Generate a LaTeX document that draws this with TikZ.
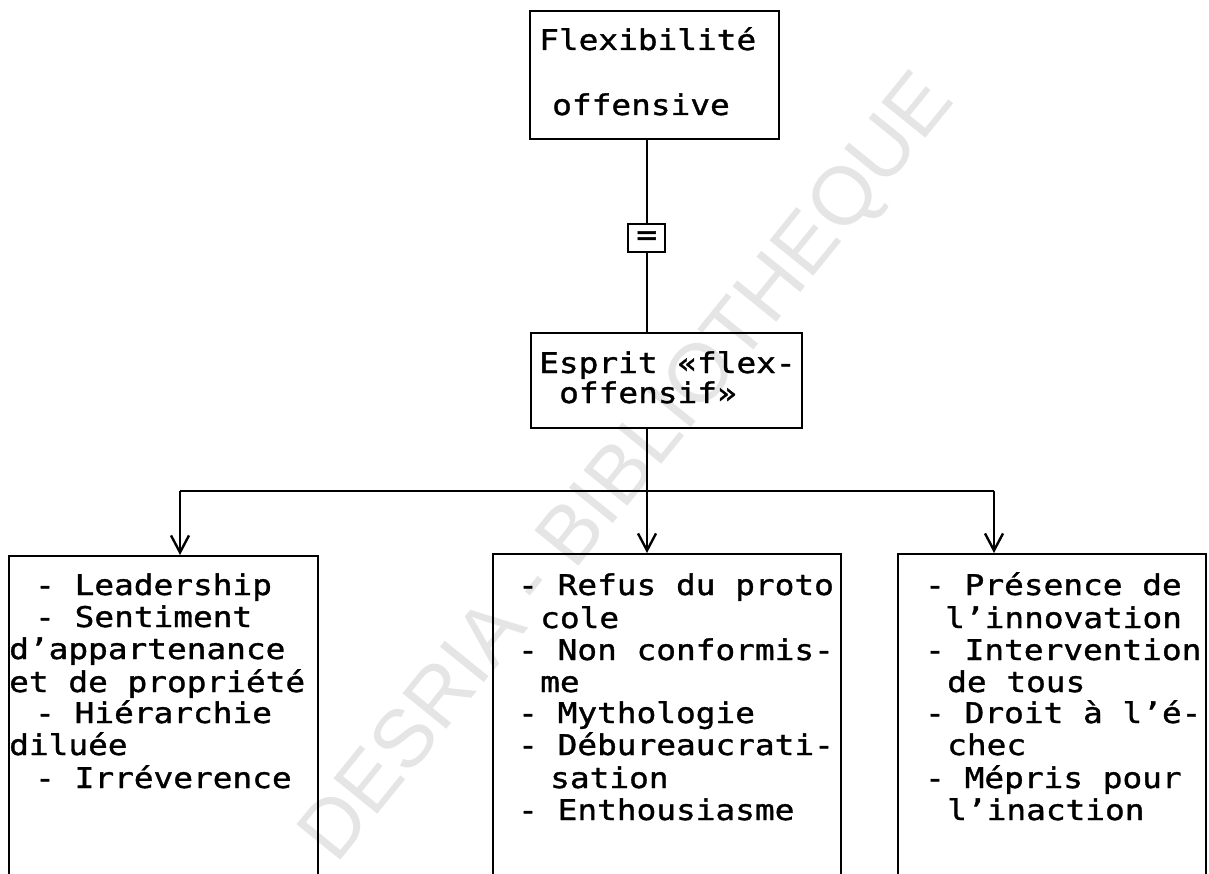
\documentclass[tikz,border=0pt]{standalone}
\usepackage{fontspec}
\setmainfont{DejaVu Sans}
\setmonofont[FakeStretch=1.15,FakeBold=1.2]{DejaVu Sans Mono}
\newfontfamily\markfont{Liberation Sans}
\usetikzlibrary{arrows.meta}

\begin{document}
\begin{tikzpicture}[x=1pt,y=-1pt,
  box/.style={draw, line width=2.4pt, inner sep=0pt, anchor=north west},
  txt/.style={anchor=base west, inner sep=0pt, font=\ttfamily\fontsize{28.5}{32}\selectfont},
  eqsign/.style={inner sep=0pt, font=\ttfamily\fontsize{30}{30}\selectfont},
  link/.style={line width=2.4pt},
  arr/.style={line width=2.4pt, -{Straight Barb[length=17pt,width=18pt,line width=2.4pt]}},
  wm/.style={text=black!10, font=\markfont\fontsize{82}{82}\selectfont, inner sep=0pt}]

\useasboundingbox (0,0) rectangle (1209,874);
\clip (0,0) rectangle (1209,874);

% library stamp in the background
\node[wm, rotate=51] (stamp) at (630,470) {DESRIA - BIBLIOTHEQUE};

% boxes
\node[box, minimum width=249pt, minimum height=128pt] (top) at (529,10) {};
\node[box, minimum width=37pt,  minimum height=28pt]  (eq)  at (627,223) {};
\node[box, minimum width=271pt, minimum height=95pt]  (mid) at (530,332) {};
\node[box, minimum width=309pt, minimum height=345pt] (lbox) at (8,555) {};
\node[box, minimum width=348pt, minimum height=347pt] (mbox) at (492,553) {};
\node[box, minimum width=308pt, minimum height=347pt] (rbox) at (897,553) {};

\node[eqsign] (eqtxt) at (eq.center) {=};

% spine and distribution bar
\coordinate (spine) at (647,491);
\coordinate (busL) at (180,491);
\coordinate (busR) at (994,491);

\draw[link] (eq.north -| spine) -- (spine |- top.south);
\draw[link] (eq.south -| spine) -- (spine |- mid.north);
\draw[arr]  (mid.south -| spine) -- (spine |- mbox.north);
\draw[link] (busL) -- (busR);
\draw[arr]  (busL) -- (busL |- lbox.north);
\draw[arr]  (busR) -- (busR |- rbox.north);

% box texts
\node[txt] (t1) at (539,50)  {Flexibilité};
\node[txt] (t2) at (552,115) {offensive};
\node[txt] (m1) at (539,373) {Esprit «flex-};
\node[txt] (m2) at (559,403) {offensif»};

\foreach \n/\x/\y/\t in {
  l1/35/595/- Leadership,
  l2/35/627/- Sentiment,
  l3/9/659/d’appartenance,
  l4/9/692/et de propriété,
  l5/35/723/- Hiérarchie,
  l6/9/755/diluée,
  l7/35/788/- Irréverence,
  c1/518/595/- Refus du proto,
  c2/540/628/cole,
  c3/518/660/- Non conformis-,
  c4/540/692/me,
  c5/518/723/- Mythologie,
  c6/518/755/- Débureaucrati-,
  c7/550/788/sation,
  c8/518/820/- Enthousiasme,
  r1/925/595/- Présence de,
  r2/945/628/l’innovation,
  r3/925/660/- Intervention,
  r4/947/692/de tous,
  r5/925/723/- Droit à l’é-,
  r6/947/755/chec,
  r7/925/788/- Mépris pour,
  r8/947/820/l’inaction}
  \node[txt] (\n) at (\x,\y) {\t};

\end{tikzpicture}
\end{document}
